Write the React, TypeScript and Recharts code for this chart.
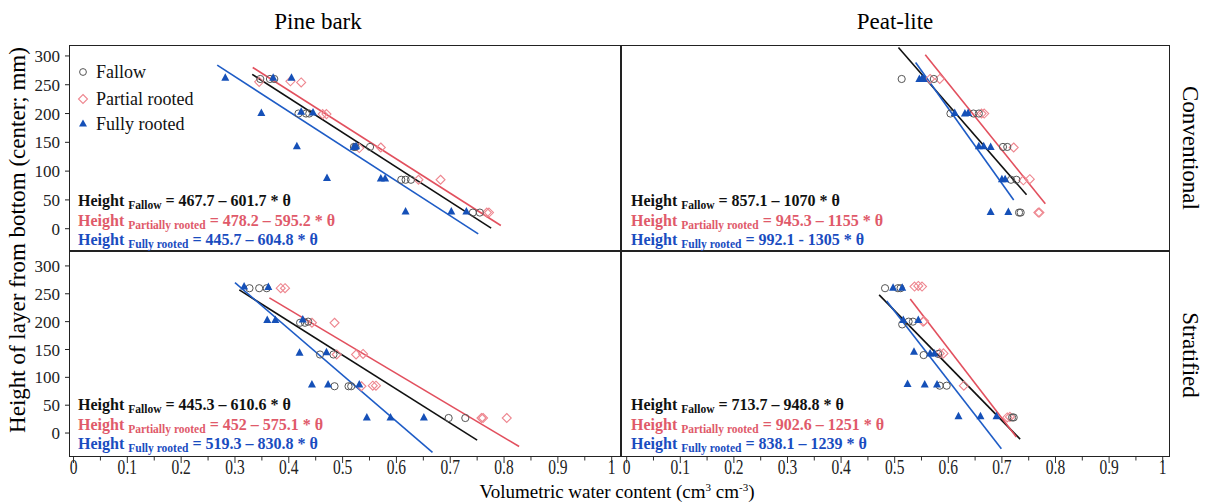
import React from 'react';
import { ScatterChart, Scatter, XAxis, YAxis, ReferenceLine } from 'recharts';

type Pair = [number, number];

const SERIF = "'Liberation Serif', 'Times New Roman', serif";

// [volumetric water content θ, layer height (mm)]
const pbConvFallow: Pair[] = [
  [0.347, 260], [0.365, 260], [0.373, 260], [0.418, 200], [0.432, 200], [0.438, 200],
  [0.521, 142], [0.524, 142], [0.551, 142], [0.609, 85], [0.617, 85], [0.627, 85],
  [0.742, 28], [0.755, 28],
];
const pbConvPartial: Pair[] = [
  [0.345, 255], [0.403, 256], [0.423, 254], [0.463, 199], [0.47, 199], [0.531, 140],
  [0.571, 141], [0.641, 85], [0.682, 85], [0.768, 28], [0.772, 28],
];
const pbConvFully: Pair[] = [
  [0.282, 262], [0.371, 262], [0.405, 262], [0.349, 201], [0.423, 203], [0.445, 202],
  [0.415, 143], [0.521, 142], [0.525, 143], [0.471, 88], [0.571, 87], [0.579, 87],
  [0.617, 30], [0.702, 30], [0.73, 30],
];

const plConvFallow: Pair[] = [
  [0.513, 260], [0.573, 260], [0.604, 200], [0.647, 200], [0.657, 200], [0.702, 142],
  [0.71, 142], [0.717, 85], [0.727, 85], [0.732, 28], [0.735, 28],
];
const plConvPartial: Pair[] = [
  [0.566, 260], [0.584, 260], [0.662, 200], [0.667, 200], [0.722, 141], [0.74, 84],
  [0.752, 86], [0.768, 28], [0.77, 28],
];
const plConvFully: Pair[] = [
  [0.546, 260], [0.551, 261], [0.554, 260], [0.612, 201], [0.631, 200], [0.637, 201],
  [0.657, 143], [0.666, 143], [0.679, 142], [0.7, 86], [0.706, 86], [0.679, 29], [0.712, 29],
];

const pbStratFallow: Pair[] = [
  [0.327, 260], [0.345, 260], [0.359, 260], [0.421, 198], [0.43, 198], [0.436, 200],
  [0.458, 141], [0.483, 141], [0.485, 84], [0.511, 84], [0.516, 84], [0.697, 27], [0.728, 27],
];
const pbStratPartial: Pair[] = [
  [0.385, 260], [0.393, 260], [0.443, 198], [0.485, 198], [0.489, 141], [0.525, 141],
  [0.538, 142], [0.535, 84], [0.556, 85], [0.562, 85], [0.758, 27], [0.761, 27], [0.805, 27],
];
const pbStratFully: Pair[] = [
  [0.317, 263], [0.362, 262], [0.36, 203], [0.375, 203], [0.426, 204], [0.42, 144],
  [0.47, 145], [0.443, 87], [0.473, 87], [0.531, 87], [0.545, 28], [0.589, 28], [0.651, 28],
];

const plStratFallow: Pair[] = [
  [0.482, 260], [0.506, 260], [0.511, 260], [0.514, 195], [0.526, 200], [0.534, 200],
  [0.554, 140], [0.581, 142], [0.584, 85], [0.597, 85], [0.719, 28], [0.722, 28],
];
const plStratPartial: Pair[] = [
  [0.537, 263], [0.544, 264], [0.551, 263], [0.553, 200], [0.555, 201], [0.584, 143],
  [0.591, 143], [0.629, 85], [0.71, 28], [0.715, 29],
];
const plStratFully: Pair[] = [
  [0.497, 261], [0.514, 261], [0.516, 203], [0.544, 203], [0.536, 146], [0.566, 143],
  [0.574, 143], [0.524, 88], [0.556, 87], [0.579, 87], [0.619, 30], [0.66, 30], [0.69, 30],
];

// fitted lines: [θ start, height start, θ end, height end] (fallow, partial, fully)
const pbConvFits = [[0.332, 268, 0.776, 1], [0.333, 280, 0.794, 5.6], [0.267, 284, 0.752, -9]];
const plConvFits = [[0.507, 314.6, 0.746, 58.9], [0.557, 302, 0.781, 43.2], [0.539, 288.7, 0.722, 49.9]];
const pbStratFits = [[0.308, 257, 0.75, -12.7], [0.364, 242.7, 0.828, -24.2], [0.3, 270, 0.667, -34.8]];
const plStratFits = [[0.471, 248, 0.734, -11], [0.529, 240.8, 0.727, -6.9], [0.485, 237, 0.699, -28]];

const pbConvEq = ['467.7 – 601.7 * θ', '478.2 – 595.2 * θ', '445.7 – 604.8 * θ'];
const plConvEq = ['857.1 – 1070 * θ', '945.3 – 1155 * θ', '992.1 - 1305 * θ'];
const pbStratEq = ['445.3 – 610.6 * θ', '452 – 575.1 * θ', '519.3 – 830.8 * θ'];
const plStratEq = ['713.7 – 948.8 * θ', '902.6 – 1251 * θ', '838.1 – 1239 * θ'];

const EQ_NAMES = ['Fallow', 'Partially rooted', 'Fully rooted'];
const LEGEND_NAMES = ['Fallow', 'Partial rooted', 'Fully rooted'];

const X_TICKS = [0, 0.05, 0.1, 0.15, 0.2, 0.25, 0.3, 0.35, 0.4, 0.45, 0.5, 0.55, 0.6, 0.65, 0.7, 0.75, 0.8, 0.85, 0.9, 0.95, 1];
const X_LABELS = ['0', '0.1', '0.2', '0.3', '0.4', '0.5', '0.6', '0.7', '0.8', '0.9', '1'];
const Y_TICKS = [0, 50, 100, 150, 200, 250, 300];

const LINE_COLORS = ['#111111', '#E2505E', '#1E5CC6'];
const TEXT_COLORS = ['#111111', '#E05A6A', '#1A4CBF'];

const toPts = (arr: Pair[]) => arr.map(([x, y]) => ({ x, y }));

const CircleMark = (p: any) => (
  <circle cx={p.cx} cy={p.cy} r={3.6} fill="none" stroke="#555" strokeWidth={1} />
);
const DiamondMark = (p: any) => (
  <path
    d={`M${p.cx},${p.cy - 4.5}L${p.cx + 4.5},${p.cy}L${p.cx},${p.cy + 4.5}L${p.cx - 4.5},${p.cy}Z`}
    fill="none" stroke="#EE8790" strokeWidth={1.1}
  />
);
const TriMark = (p: any) => (
  <path d={`M${p.cx},${p.cy - 4.5}L${p.cx + 4},${p.cy + 3}L${p.cx - 4},${p.cy + 3}Z`} fill="#1550B8" />
);

function XTick({ x, y, payload }: any) {
  const step = Math.round(payload.value * 20);
  const major = step % 2 === 0;
  return (
    <g>
      <line x1={x} x2={x} y1={y} y2={y + (major ? 6 : 3.5)} stroke="#333" strokeWidth={1} />
      {major && (
        <text
          transform={`translate(${x},${y + 17}) scale(0.74,1)`}
          textAnchor="middle" fontSize={21} fontFamily={SERIF} fill="#222"
        >
          {X_LABELS[step / 2]}
        </text>
      )}
    </g>
  );
}

interface PanelProps {
  left: number;
  top: number;
  width: number;
  height: number;
  xDomain: [number, number];
  yDomain: [number, number];
  showX?: boolean;
  showY?: boolean;
  fallow: Pair[];
  partial: Pair[];
  fully: Pair[];
  fits: number[][];
}

function Panel({ left, top, width, height, xDomain, yDomain, showX, showY, fallow, partial, fully, fits }: PanelProps) {
  const yW = showY ? 60 : 0;
  const xH = showX ? 40 : 0;
  return (
    <div style={{ position: 'absolute', left: left - yW, top }}>
      <ScatterChart width={width + yW} height={height + xH} margin={{ top: 0, right: 0, bottom: 0, left: 0 }}>
        <XAxis
          type="number" dataKey="x" domain={xDomain} allowDataOverflow hide={!showX}
          ticks={X_TICKS} interval={0} tickSize={0} tickMargin={0} axisLine={false} tickLine={false}
          tick={(p: any) => <XTick {...p} />} height={xH}
        />
        <YAxis
          type="number" dataKey="y" domain={yDomain} allowDataOverflow hide={!showY}
          ticks={Y_TICKS} interval={0} width={yW} tickSize={4} tickMargin={5} axisLine={false}
          tickLine={{ stroke: '#222' }} tick={{ fontSize: 17, fill: '#222', fontFamily: SERIF }}
        />
        {fits.map((f, i) => (
          <ReferenceLine
            key={i}
            segment={[{ x: f[0], y: f[1] }, { x: f[2], y: f[3] }]}
            stroke={LINE_COLORS[i]} strokeWidth={1.6} ifOverflow="visible"
          />
        ))}
        <Scatter data={toPts(partial)} shape={DiamondMark} isAnimationActive={false} />
        <Scatter data={toPts(fallow)} shape={CircleMark} isAnimationActive={false} />
        <Scatter data={toPts(fully)} shape={TriMark} isAnimationActive={false} />
      </ScatterChart>
    </div>
  );
}

function Equations({ left, top, eqs }: { left: number; top: number; eqs: string[] }) {
  return (
    <>
      {eqs.map((e, i) => (
        <div
          key={i}
          style={{
            position: 'absolute', left, top: top + i * 19.5, fontFamily: SERIF, fontWeight: 'bold',
            fontSize: 16, color: TEXT_COLORS[i], whiteSpace: 'nowrap', lineHeight: '20px',
          }}
        >
          Height <span style={{ fontSize: 11.5, position: 'relative', top: 3 }}>{EQ_NAMES[i]}</span> = {e}
        </div>
      ))}
    </>
  );
}

function Legend() {
  const marks = [
    <circle cx={7} cy={7} r={3.4} fill="none" stroke="#555" strokeWidth={1} />,
    <path d="M7,2.5L11.5,7L7,11.5L2.5,7Z" fill="none" stroke="#EE8790" strokeWidth={1.1} />,
    <path d="M7,2.5L11,9.5L3,9.5Z" fill="#1550B8" />,
  ];
  const ys = [72, 99, 124];
  return (
    <>
      {LEGEND_NAMES.map((n, i) => (
        <div key={n} style={{ position: 'absolute', left: 76, top: ys[i] - 11, height: 22, display: 'flex', alignItems: 'center' }}>
          <svg width={14} height={14} style={{ marginRight: 6 }}>{marks[i]}</svg>
          <span style={{ font: `18px ${SERIF}`, color: '#111' }}>{n}</span>
        </div>
      ))}
    </>
  );
}

const LEFT_X: [number, number] = [-0.0084, 1.0173];
const RIGHT_X: [number, number] = [-0.0106, 1.0136];
const TOP_Y: [number, number] = [-38.7, 319];
const BOTTOM_Y: [number, number] = [-43, 325];

export default function App() {
  const border = '#222';
  return (
    <div style={{ position: 'absolute', left: 0, top: 0, width: 1213, height: 504, background: '#fff', fontFamily: SERIF }}>
      <div style={{ position: 'absolute', left: 318, top: 22, transform: 'translate(-50%,-50%)', fontSize: 23, whiteSpace: 'nowrap' }}>Pine bark</div>
      <div style={{ position: 'absolute', left: 895, top: 22, transform: 'translate(-50%,-50%)', fontSize: 23, whiteSpace: 'nowrap' }}>Peat-lite</div>

      <Panel left={69} top={45} width={552} height={206} xDomain={LEFT_X} yDomain={TOP_Y} showY
        fallow={pbConvFallow} partial={pbConvPartial} fully={pbConvFully} fits={pbConvFits} />
      <Panel left={621} top={45} width={549} height={206} xDomain={RIGHT_X} yDomain={TOP_Y}
        fallow={plConvFallow} partial={plConvPartial} fully={plConvFully} fits={plConvFits} />
      <Panel left={69} top={252} width={552} height={205} xDomain={LEFT_X} yDomain={BOTTOM_Y} showX showY
        fallow={pbStratFallow} partial={pbStratPartial} fully={pbStratFully} fits={pbStratFits} />
      <Panel left={621} top={252} width={549} height={205} xDomain={RIGHT_X} yDomain={BOTTOM_Y} showX
        fallow={plStratFallow} partial={plStratPartial} fully={plStratFully} fits={plStratFits} />

      <div style={{ position: 'absolute', left: 69, top: 45, width: 1101, height: 412, border: `1.5px solid ${border}`, boxSizing: 'border-box', pointerEvents: 'none' }} />
      <div style={{ position: 'absolute', left: 620, top: 45, width: 2, height: 412, background: border }} />
      <div style={{ position: 'absolute', left: 69, top: 250, width: 1101, height: 2, background: border }} />

      <Legend />
      <Equations left={78} top={191} eqs={pbConvEq} />
      <Equations left={631} top={191} eqs={plConvEq} />
      <Equations left={78} top={395} eqs={pbStratEq} />
      <Equations left={631} top={395} eqs={plStratEq} />

      <div style={{ position: 'absolute', left: 1190, top: 148, transform: 'translate(-50%,-50%) rotate(90deg)', fontSize: 23, whiteSpace: 'nowrap' }}>Conventional</div>
      <div style={{ position: 'absolute', left: 1190, top: 355, transform: 'translate(-50%,-50%) rotate(90deg)', fontSize: 23, whiteSpace: 'nowrap' }}>Stratified</div>
      <div style={{ position: 'absolute', left: 18, top: 240, transform: 'translate(-50%,-50%) rotate(-90deg)', fontSize: 23, whiteSpace: 'nowrap' }}>
        Height of layer from bottom (center; mm)
      </div>
      <div style={{ position: 'absolute', left: 617, top: 492, transform: 'translate(-50%,-50%)', fontSize: 19, whiteSpace: 'nowrap' }}>
        Volumetric water content (cm<sup style={{ fontSize: 11 }}>3</sup> cm<sup style={{ fontSize: 11 }}>-3</sup>)
      </div>
    </div>
  );
}
